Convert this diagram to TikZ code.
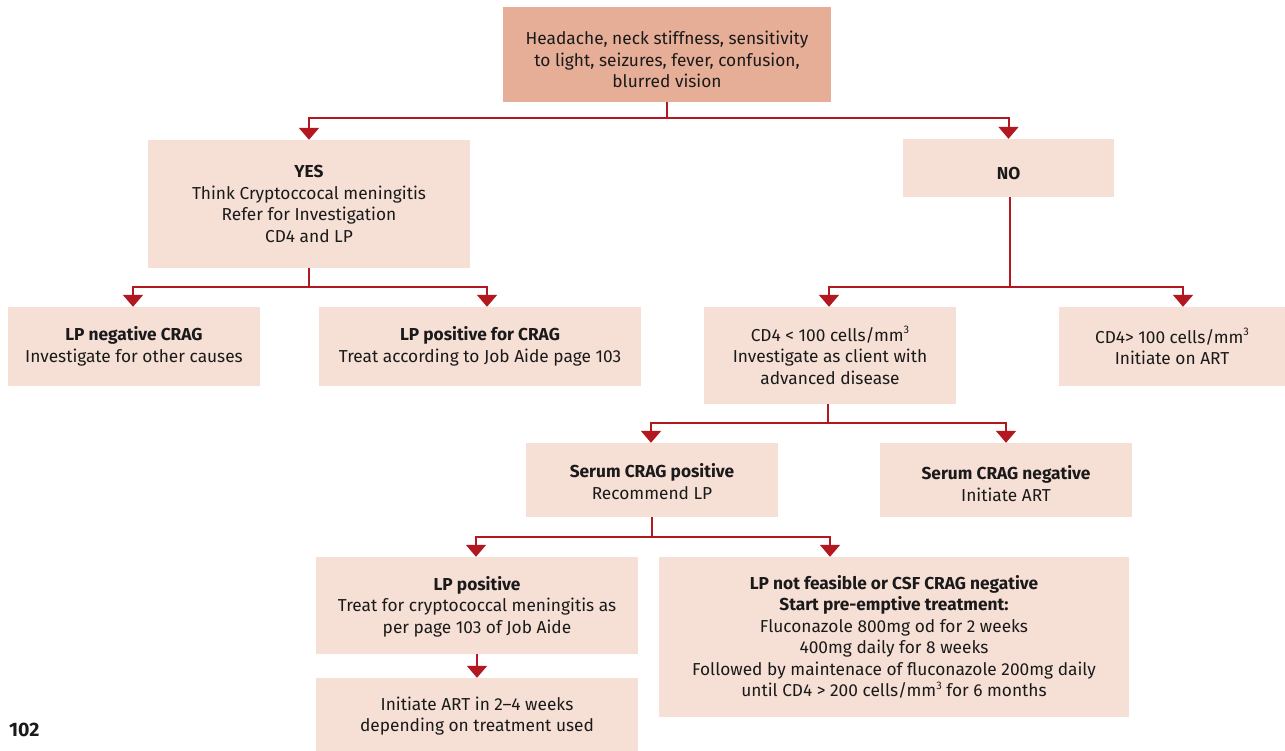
\documentclass[tikz,border=0pt]{standalone}
\usepackage{fontspec}
\setmainfont{Fira Sans}
\usetikzlibrary{arrows.meta}
\definecolor{boxdark}{HTML}{E6AE97}
\definecolor{boxlight}{HTML}{F6DFD5}
\definecolor{linered}{HTML}{B3171F}
\definecolor{txt}{HTML}{1A1A1A}
\newcommand\pushdn[1]{\rule{0pt}{#1}}
\newcommand\cube{\raisebox{0.42em}{\fontsize{11}{11}\selectfont 3}}
\begin{document}
\begin{tikzpicture}[x=1pt,y=-1pt,
  box/.style={fill=boxlight, inner sep=0pt, align=center, text=txt,
    font=\fontsize{17.3}{21.5}\selectfont},
  conn/.style={draw=linered, line width=2pt},
  arr/.style={conn, -{Triangle[width=20pt,length=12pt]}}]
\useasboundingbox (0,0) rectangle (1285,751);
\fill[white] (0,0) rectangle (1285,751);

\node[box, fill=boxdark, minimum width=328, minimum height=95] (top) at (667,54.5)
  {\pushdn{24pt}Headache, neck stiffness, sensitivity\\to light, seizures, fever, confusion,\\blurred vision};
\node[box, minimum width=322, minimum height=128] (yes) at (309,204)
  {\textbf{YES}\\Think Cryptoccocal meningitis\\Refer for Investigation\\CD4 and LP};
\node[box, minimum width=211, minimum height=58] (no) at (1008.5,168)
  {\pushdn{23pt}\textbf{NO}};
\node[box, minimum width=252, minimum height=79] (lpneg) at (134,346.5)
  {\textbf{LP negative CRAG}\\Investigate for other causes};
\node[box, minimum width=322, minimum height=79] (lpposc) at (480,346.5)
  {\textbf{LP positive for CRAG}\\Treat according to Job Aide page 103};
\node[box, minimum width=252, minimum height=97] (cdlow) at (830,355.5)
  {CD4 < 100 cells/mm\cube\\Investigate as client with\\advanced disease};
\node[box, minimum width=226, minimum height=79] (cdhigh) at (1172,346.5)
  {CD4> 100 cells/mm\cube\\Initiate on ART};
\node[box, minimum width=252, minimum height=74] (spos) at (652,480)
  {\pushdn{17pt}\textbf{Serum CRAG positive}\\Recommend LP};
\node[box, minimum width=252, minimum height=74] (sneg) at (1006,480)
  {\pushdn{21pt}\textbf{Serum CRAG negative}\\Initiate ART};
\node[box, minimum width=322, minimum height=97] (lppos) at (477,605.5)
  {\pushdn{16pt}\textbf{LP positive}\\Treat for cryptococcal meningitis as\\per page 103 of Job Aide};
\node[box, minimum width=470, minimum height=160] (lpnf) at (894,637)
  {\textbf{LP not feasible or CSF CRAG negative}\\\textbf{Start pre-emptive treatment:}\\Fluconazole 800mg od for 2 weeks\\400mg daily for 8 weeks\\Followed by maintenace of fluconazole 200mg daily\\until CD4 > 200 cells/mm\cube{} for 6 months};
\node[box, minimum width=322, minimum height=73] (art) at (477,714.5)
  {\pushdn{17pt}Initiate ART in 2--4 weeks\\depending on treatment used};
\node[anchor=west, inner sep=0pt, text=txt, font=\fontsize{19.5}{22}\selectfont\bfseries] (page) at (9,730) {102};

\coordinate (j1) at (667,118);
\coordinate (j2) at (309,287);
\coordinate (j3) at (1010,287);
\coordinate (j4) at (828,423);
\coordinate (j5) at (652,537);

\draw[conn] (top.south) -- (j1);
\draw[arr] (j1) -| (yes.north);
\draw[arr] (j1) -| (no.north);

\draw[conn] (yes.south) -- (j2);
\draw[arr] (j2) -| (133,0 |- lpneg.north);
\draw[arr] (j2) -| (487,0 |- lpposc.north);

\draw[conn] (1010,0 |- no.south) -- (j3);
\draw[arr] (j3) -| (829,0 |- cdlow.north);
\draw[arr] (j3) -| (1183,0 |- cdhigh.north);

\draw[conn] (828,0 |- cdlow.south) -- (j4);
\draw[arr] (j4) -| (651,0 |- spos.north);
\draw[arr] (j4) -| (1006,0 |- sneg.north);

\draw[conn] (spos.south) -- (j5);
\draw[arr] (j5) -| (476,0 |- lppos.north);
\draw[arr] (j5) -| (830,0 |- lpnf.north);

\draw[arr] (lppos.south) -- (art.north);
\end{tikzpicture}
\end{document}
